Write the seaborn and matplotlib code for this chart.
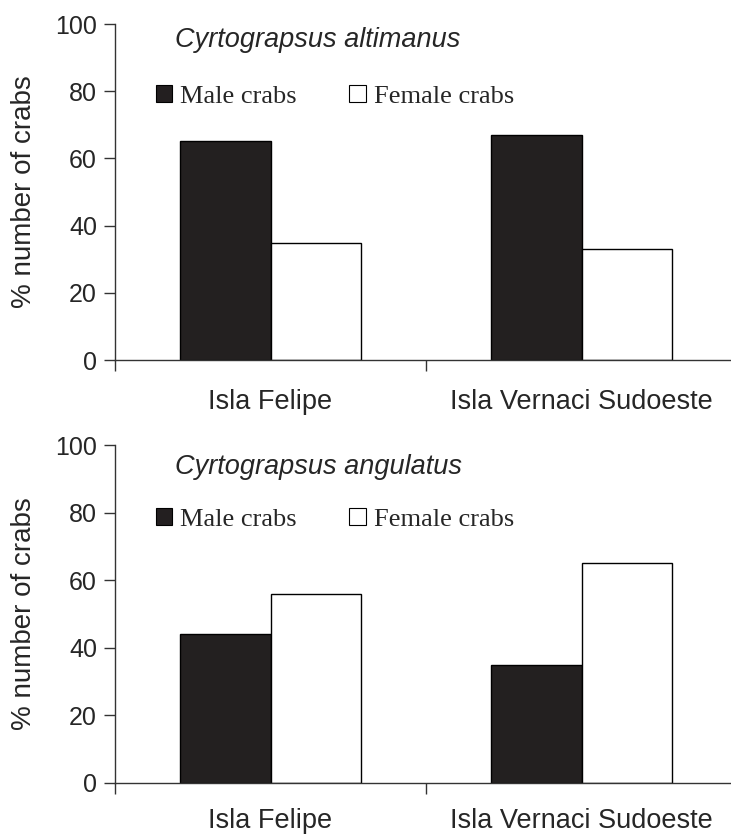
import numpy as np
import pandas as pd
import matplotlib
matplotlib.use('Agg')
import matplotlib.pyplot as plt
from matplotlib.patches import Patch
import seaborn as sns

# Data
SITES = ['Isla Felipe', 'Isla Vernaci Sudoeste']
SEXES = ['Male crabs', 'Female crabs']
SPECIES = ['Cyrtograpsus altimanus', 'Cyrtograpsus angulatus']
ALTIMANUS_MALE = [65.3, 67.0]
ALTIMANUS_FEMALE = [34.7, 33.0]
ANGULATUS_MALE = [44.0, 35.0]
ANGULATUS_FEMALE = [56.0, 65.0]
Y_TICKS = [0, 20, 40, 60, 80, 100]

BAR_COLORS = ['#231f20', 'white']
AXIS_COLOR = '#333333'

sns.set_style('white')
plt.rcParams['font.family'] = ['Liberation Sans', 'DejaVu Sans']


def make_frame(male, female):
    """Long-form table for one species."""
    rows = []
    for site, m, f in zip(SITES, male, female):
        rows.append({'site': site, 'sex': SEXES[0], 'pct': m})
        rows.append({'site': site, 'sex': SEXES[1], 'pct': f})
    return pd.DataFrame(rows)


def draw_panel(ax, df, species, title_y, legend_y, label_pad):
    sns.barplot(data=df, x='site', y='pct', hue='sex', order=SITES,
                hue_order=SEXES, palette=BAR_COLORS, edgecolor='black',
                linewidth=1.0, width=0.58, gap=0, legend=False, ax=ax)

    ax.set_xlim(-0.5, 1.48)
    ax.set_ylim(0, 100)
    ax.set_yticks(Y_TICKS)
    ax.tick_params(axis='y', labelsize=18, length=8, width=1,
                   color=AXIS_COLOR, pad=5, left=True, direction='out')

    # ticks at group boundaries, labels at group centres
    ax.set_xticks([-0.5, 0.5])
    ax.set_xticklabels(['', ''])
    ax.set_xticks([0, 1], minor=True)
    ax.set_xticklabels(SITES, minor=True, fontsize=19.5)
    ax.tick_params(axis='x', which='major', length=8, width=1,
                   color=AXIS_COLOR, bottom=True, direction='out')
    ax.tick_params(axis='x', which='minor', length=0, pad=label_pad)

    sns.despine(ax=ax)
    for s in ['left', 'bottom']:
        ax.spines[s].set_color(AXIS_COLOR)
        ax.spines[s].set_linewidth(1.0)

    ax.set_xlabel('')
    ax.set_ylabel('% number of crabs', fontsize=20)
    ax.yaxis.set_label_coords(-0.126, 0.5)

    ax.text(0.097, title_y, species, transform=ax.transAxes,
            fontsize=19.5, style='italic', va='baseline', ha='left')

    handles = [Patch(facecolor=c, edgecolor='black', linewidth=0.8)
               for c in BAR_COLORS]
    ax.legend(handles, SEXES, loc='center left',
              bbox_to_anchor=(0.066, legend_y), ncol=2, frameon=False,
              prop={'family': 'Liberation Serif', 'size': 19},
              handlelength=0.62, handleheight=0.62, handletextpad=0.3,
              columnspacing=2.0, borderpad=0, borderaxespad=0)


fig = plt.figure(figsize=(7.31, 8.35), dpi=100)
ax_top = fig.add_axes([115 / 731, 1 - 360 / 835, (731 - 115) / 731, 336 / 835])
ax_bot = fig.add_axes([115 / 731, 1 - 783 / 835, (731 - 115) / 731, 338 / 835])

draw_panel(ax_top, make_frame(ALTIMANUS_MALE, ALTIMANUS_FEMALE),
           SPECIES[0], 0.932, 0.785, 21)
draw_panel(ax_bot, make_frame(ANGULATUS_MALE, ANGULATUS_FEMALE),
           SPECIES[1], 0.915, 0.78, 18)

fig.savefig('out.png', dpi=100)
